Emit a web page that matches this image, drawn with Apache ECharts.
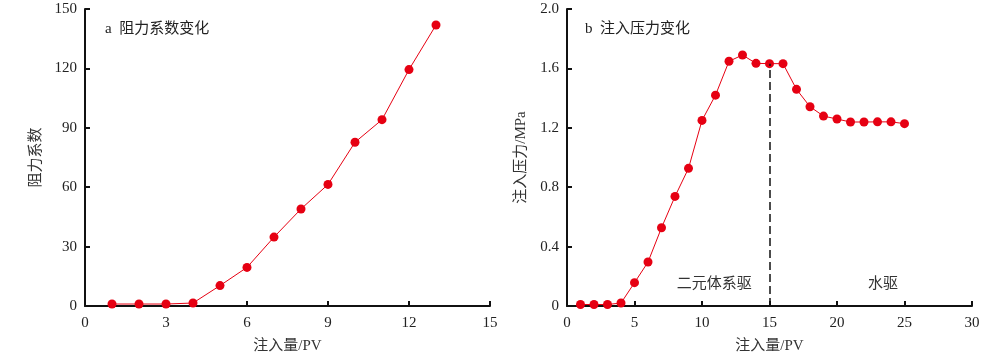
<!DOCTYPE html>
<html><head><meta charset="utf-8">
<script src="https://cdn.jsdelivr.net/npm/echarts@6/dist/echarts.min.js"></script>
<style>html,body{margin:0;padding:0;background:#fff}#c{width:1000px;height:360px}</style>
</head><body><div id="c"></div>
<script>
const pvA = [1,2,3,4,5,6,7,8,9,10,11,12,13];
const resistance = [1,1,1,1.5,10.3,19.5,34.8,49,61.4,82.7,94.1,119.4,141.9];
const pvB = [1,2,3,4,5,6,7,8,9,10,11,12,13,14,15,16,17,18,19,20,21,22,23,24,25];
const pressure = [0.01,0.01,0.01,0.02,0.157,0.296,0.527,0.738,0.927,1.25,1.42,1.648,1.69,1.634,1.632,1.632,1.459,1.342,1.279,1.259,1.239,1.239,1.24,1.24,1.228];
const titleA = 'a  阻力系数变化';
const titleB = 'b  注入压力变化';
const xNameA = '注入量/PV', yNameA = '阻力系数';
const xNameB = '注入量/PV', yNameB = '注入压力/MPa';
const switchPV = 15, switchP = 1.632;
const stageLabels = [{name:'二元体系驱', x:10.9, y:0.15},{name:'水驱', x:23.4, y:0.15}];

const serif = '"Liberation Serif","DejaVu Serif",serif';
const cjk = '"Liberation Serif","Noto Sans CJK SC",serif';
const red = '#e60012';
function axisCommon(){
  return {
    axisLine:{show:true,lineStyle:{color:'#111',width:2}},
    axisTick:{show:true,inside:true,length:5,lineStyle:{color:'#111',width:2}},
    splitLine:{show:false},
    axisLabel:{color:'#222',fontFamily:serif,fontSize:15},
    nameTextStyle:{color:'#333',fontFamily:cjk,fontSize:15},
  };
}
const chart = echarts.init(document.getElementById('c'));
const pairs = (xs, ys) => xs.map((x,i)=>[x, ys[i]]);
chart.setOption({
  animation:false,
  title:[
    {text:titleA,left:100,top:17,textStyle:{fontFamily:cjk,fontSize:15,fontWeight:'normal',color:'#222'}},
    {text:titleB,left:580,top:17,textStyle:{fontFamily:cjk,fontSize:15,fontWeight:'normal',color:'#222'}}
  ],
  grid:[
    {left:85,right:510,top:9,bottom:54},
    {left:567,right:28,top:9,bottom:54}
  ],
  xAxis:[
    Object.assign(axisCommon(),{gridIndex:0,type:'value',min:0,max:15,interval:3,name:xNameA,nameLocation:'middle',nameGap:33,axisLabel:{color:'#222',fontFamily:serif,fontSize:15,margin:10}}),
    Object.assign(axisCommon(),{gridIndex:1,type:'value',min:0,max:30,interval:5,name:xNameB,nameLocation:'middle',nameGap:33,axisLabel:{color:'#222',fontFamily:serif,fontSize:15,margin:10}})
  ],
  yAxis:[
    Object.assign(axisCommon(),{gridIndex:0,type:'value',min:0,max:150,interval:30,name:yNameA,nameLocation:'middle',nameGap:41}),
    Object.assign(axisCommon(),{gridIndex:1,type:'value',min:0,max:2.0,interval:0.4,name:yNameB,nameLocation:'middle',nameGap:38,
      axisLabel:{color:'#222',fontFamily:serif,fontSize:15,formatter:v=>v===0?'0':v.toFixed(1)}})
  ],
  series:[
    {type:'line',xAxisIndex:0,yAxisIndex:0,data:pairs(pvA,resistance),symbol:'circle',symbolSize:9,
     itemStyle:{color:red},lineStyle:{color:red,width:1}},
    {type:'line',xAxisIndex:1,yAxisIndex:1,data:pairs(pvB,pressure),symbol:'circle',symbolSize:9,
     itemStyle:{color:red},lineStyle:{color:red,width:1},z:3,
     markLine:{silent:true,symbol:'none',label:{show:false},lineStyle:{color:'#111',type:[8,4],width:1.5},
       data:[[{coord:[switchPV,0]},{coord:[switchPV,switchP]}]]},
     markPoint:{silent:true,symbol:'circle',symbolSize:0,
       label:{show:true,position:'inside',formatter:'{b}',color:'#333',fontFamily:cjk,fontSize:15},
       data:stageLabels.map(s=>({name:s.name,coord:[s.x,s.y]}))}
    }
  ]
});
</script></body></html>
